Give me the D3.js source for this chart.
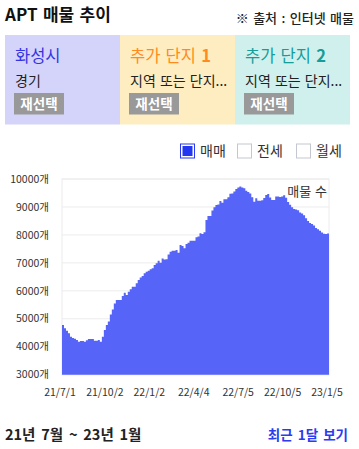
<!DOCTYPE html>
<html><head><meta charset="utf-8">
<script src="https://cdn.jsdelivr.net/npm/d3@7"></script>
<style>
html,body{margin:0;padding:0;background:#fff;}
svg{display:block;font-family:"Noto Sans CJK KR","Noto Sans",sans-serif;}
</style></head>
<body>
<svg id="c" width="359" height="449"></svg>
<script>
// ---- data ----
const startDate = "2021-07-01";
const endDate = "2023-01-05";
const tickDates = ["2021-07-01","2021-10-02","2022-01-02","2022-04-04","2022-07-05","2022-10-05","2023-01-05"];
const yTicks = [3000,4000,5000,6000,7000,8000,9000,10000];
const listings = [
4780,4660,4575,4480,4360,4310,4290,4240,4180,4205,4205,4180,4230,4280,4280,4280,4210,4210,4240,4180,
4360,4600,4780,4900,5150,5330,5550,5670,5670,5670,5815,5935,5850,5970,6055,6150,6150,6270,6390,6480,
6530,6625,6685,6720,6770,6805,6925,6985,7080,7005,7160,7125,7130,7300,7400,7435,7435,7460,7365,7640,
7605,7520,7675,7720,7795,7795,7795,7915,7940,8060,8035,8095,8535,8680,8680,8870,8990,9070,9090,9215,
9150,9275,9275,9350,9470,9480,9550,9640,9700,9730,9700,9670,9580,9535,9480,9350,9190,9310,9225,9225,
9240,9320,9430,9460,9340,9250,9250,9370,9370,9360,9370,9420,9330,9180,9080,8990,8930,8910,8880,8800,
8770,8700,8600,8500,8430,8390,8340,8250,8200,8150,8090,8045,8035,8050];
const panels = [
  {title:"화성시", num:"", sub:"경기", color:"#3434e6", bg:"#d4d4fa"},
  {title:"추가 단지 ", num:"1", sub:"지역 또는 단지...", color:"#ff8a1e", bg:"#ffedc2"},
  {title:"추가 단지 ", num:"2", sub:"지역 또는 단지...", color:"#179c9a", bg:"#d0f0ee"}
];
const legendItems = ["매매","전세","월세"];
const legendOn = [true,false,false];

// ---- drawing ----
const svg = d3.select("#c");
const parse = d3.timeParse("%Y-%m-%d");
const t0 = parse(startDate), t1 = parse(endDate);
const n = listings.length;
const stepMs = (t1 - t0) / n;
const data = listings.map((v,i)=>({date:new Date(+t0 + i*stepMs), v}));
data.push({date:t1, v:listings[n-1]});

const x = d3.scaleTime().domain([t0,t1]).range([62,329]);
const y = d3.scaleLinear().domain([3000,10000]).range([374.7,179]);

// title
svg.append("text").attr("x",5).attr("y",20.5).attr("font-size",17).attr("font-weight","bold")
  .attr("fill","#111").attr("word-spacing",1.5).text("APT 매물 추이");
svg.append("text").attr("x",354).attr("y",22.5).attr("text-anchor","end").attr("font-size",13)
  .attr("font-weight",500).attr("fill","#222").attr("word-spacing",1.5).text("※ 출처 : 인터넷 매물");

// panels
const pw = 115;
const pg = svg.selectAll("g.panel").data(panels).join("g").attr("class","panel")
  .attr("transform",(d,i)=>`translate(${5+i*pw},35)`);
pg.append("rect").attr("width",pw).attr("height",89.5).attr("fill",d=>d.bg);
const tt = pg.append("text").attr("x",10).attr("y",27).attr("font-size",16.5).attr("fill",d=>d.color)
  .attr("word-spacing",1.5);
tt.append("tspan").text(d=>d.title);
tt.append("tspan").attr("font-weight","bold").text(d=>d.num);
pg.append("text").attr("x",10).attr("y",51).attr("font-size",14).attr("fill","#222")
  .attr("word-spacing",1).text(d=>d.sub);
pg.append("rect").attr("x",9).attr("y",58).attr("width",50).attr("height",21.5).attr("fill","#999");
pg.append("text").attr("x",34).attr("y",73.5).attr("text-anchor","middle").attr("font-size",13.5)
  .attr("font-weight","bold").attr("fill","#fff").text("재선택");

// legend
const legX = [180,237,296];
const lg = svg.selectAll("g.leg").data(legendItems).join("g").attr("class","leg")
  .attr("transform",(d,i)=>`translate(${legX[i]},143.5)`);
lg.append("rect").attr("x",0.5).attr("y",0.5).attr("width",14).attr("height",14).attr("fill","#fff")
  .attr("stroke",(d,i)=>legendOn[i]?"#2a3af2":"#c4c7d0").attr("stroke-width",1);
lg.filter((d,i)=>legendOn[i]).append("rect").attr("x",2.5).attr("y",2.5).attr("width",10).attr("height",10).attr("fill","#2336f0");
lg.append("text").attr("x",20).attr("y",12.5).attr("font-size",14).attr("fill","#333").text(d=>d);

// grid & frame
svg.append("g").selectAll("line").data(yTicks).join("line")
  .attr("x1",62).attr("x2",329).attr("y1",d=>y(d)).attr("y2",d=>y(d))
  .attr("stroke","#ececec").attr("stroke-width",1);
svg.append("rect").attr("x",62).attr("y",y(10000)).attr("width",267).attr("height",y(3000)-y(10000))
  .attr("fill","none").attr("stroke","#ececec");

// area
const area = d3.area().curve(d3.curveStepAfter).x(d=>x(d.date)).y0(y(3000)).y1(d=>y(d.v));
svg.append("path").datum(data).attr("d",area).attr("fill","#5664f8");

// y axis labels
svg.append("g").selectAll("text").data(yTicks).join("text")
  .attr("x",49).attr("y",d=>y(d)).attr("dy","0.35em").attr("text-anchor","end")
  .attr("font-size",10.5).attr("fill","#333").text(d=>d+"개");

// x axis labels
const fmt = d3.timeFormat("%y/%-m/%-d");
svg.append("g").selectAll("text").data(tickDates.map(parse)).join("text")
  .attr("x",d=>x(d)).attr("dx",-2).attr("y",396).attr("text-anchor","middle")
  .attr("font-size",10.5).attr("fill","#333").text(d=>fmt(d));

// series label
svg.append("text").attr("x",327).attr("y",196).attr("text-anchor","end").attr("font-size",13)
  .attr("fill","#333").attr("word-spacing",1).text("매물 수");

// footer
svg.append("text").attr("x",5).attr("y",440).attr("font-size",14.5).attr("font-weight","bold")
  .attr("fill","#222").attr("word-spacing",2.5).text("21년 7월 ~ 23년 1월");
svg.append("text").attr("x",348).attr("y",440).attr("text-anchor","end").attr("font-size",13.5)
  .attr("font-weight","bold").attr("fill","#2b3cf0").attr("word-spacing",2).text("최근 1달 보기");
</script>
</body></html>
